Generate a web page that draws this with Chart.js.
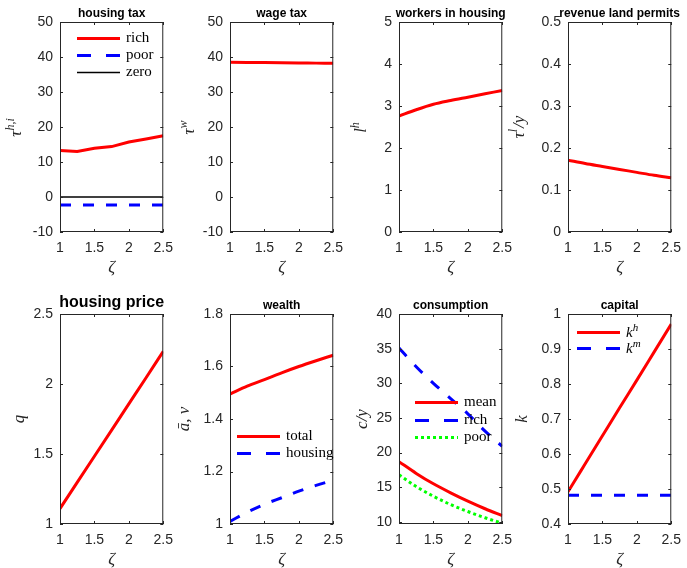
<!DOCTYPE html>
<html lang="en">
<head>
<meta charset="UTF-8">
<title>Housing tax panels</title>
<script src="https://cdn.jsdelivr.net/npm/chart.js"></script>
<style>
  body { margin: 0; background: #fff; width: 687px; height: 568px; overflow: hidden; position: relative; }
  canvas { position: absolute; }
</style>
</head>
<body>
<script>
// x values (zeta) and tick labels
const zeta = [1, 1.25, 1.5, 1.75, 2, 2.25, 2.5];
const xTicks = [1, 1.5, 2, 2.5];

// series
const housingTaxRich = [13.3, 13.0, 13.9, 14.4, 15.7, 16.6, 17.5];
const housingTaxPoor = [-2.3, -2.3, -2.3, -2.3, -2.3, -2.3, -2.3];
const housingTaxZero = [0, 0, 0, 0, 0, 0, 0];
const wageTax = [38.5, 38.45, 38.4, 38.35, 38.3, 38.25, 38.2];
const workersHousing = [2.76, 2.91, 3.04, 3.13, 3.21, 3.29, 3.37];
const revenuePermits = [0.171, 0.163, 0.156, 0.149, 0.142, 0.135, 0.129];
const housingPrice = [1.11, 1.297, 1.484, 1.671, 1.858, 2.045, 2.233];
const wealthTotal = [1.495, 1.525, 1.55, 1.576, 1.6, 1.622, 1.643];
const wealthHousing = [1.01, 1.045, 1.075, 1.1, 1.125, 1.147, 1.167];
const consMean = [18.7, 17.0, 15.5, 14.2, 13.0, 11.9, 10.9];
const consRich = [35.1, 32.4, 30.0, 27.8, 25.6, 23.1, 20.9];
const consPoor = [16.8, 15.1, 13.7, 12.5, 11.5, 10.6, 9.8];
const capitalH = [0.492, 0.572, 0.652, 0.732, 0.811, 0.891, 0.971];
const capitalM = [0.482, 0.482, 0.482, 0.482, 0.482, 0.482, 0.482];

// y tick labels per panel
const yTicksTax = [-10, 0, 10, 20, 30, 40, 50];
const yTicksWorkers = [0, 1, 2, 3, 4, 5];
const yTicksRevenue = [0, 0.1, 0.2, 0.3, 0.4, 0.5];
const yTicksPrice = [1, 1.5, 2, 2.5];
const yTicksWealth = [1, 1.2, 1.4, 1.6, 1.8];
const yTicksCons = [10, 15, 20, 25, 30, 35, 40];
const yTicksCapital = [0.4, 0.5, 0.6, 0.7, 0.8, 0.9, 1];

const RED = '#ff0000', BLUE = '#0000ff', GREEN = '#00ff00';
const solid = (c, w) => ({ color: c, width: w || 3, dash: [] });
const dashed = { color: BLUE, width: 3, dash: [11, 12], legendDash: [14, 15] };
const dotted = { color: GREEN, width: 3, dash: [3, 3], legendDash: [3, 3] };

const PLOT_W = 107, PLOT_H = 210;
const PAD_L = 60, PAD_T = 22, PAD_R = 14, PAD_B = 56;
const TICK_FONT = { family: '"Liberation Sans", Arial, sans-serif', size: 14 };

const panels = [
  { left: 60, top: 22, title: 'housing tax', yLabel: [['τ'], ['h,i', 1]], yOff: 43,
    yMin: -10, yMax: 50, yTicks: yTicksTax,
    series: [[housingTaxRich, solid(RED), 'rich'], [housingTaxPoor, dashed, 'poor'], [housingTaxZero, solid('#000', 1.5), 'zero']],
    legend: { dx: 17, dy: 16, gap: 17 } },
  { left: 230, top: 22, title: 'wage tax', yLabel: [['τ'], ['w', 1]], yOff: 40,
    yMin: -10, yMax: 50, yTicks: yTicksTax,
    series: [[wageTax, solid(RED)]] },
  { left: 399, top: 22, title: 'workers in housing', yLabel: [['l'], ['h', 1]], yOff: 37,
    yMin: 0, yMax: 5, yTicks: yTicksWorkers,
    series: [[workersHousing, solid(RED)]] },
  { left: 568, top: 22, title: 'revenue land permits', yLabel: [['τ'], ['l', 1], ['/y']], yOff: 48,
    yMin: 0, yMax: 0.5, yTicks: yTicksRevenue,
    series: [[revenuePermits, solid(RED)]] },
  { left: 60, top: 314, title: 'housing price', big: true, yLabel: [['q']], yOff: 40,
    yMin: 1, yMax: 2.5, yTicks: yTicksPrice,
    series: [[housingPrice, solid(RED)]] },
  { left: 230, top: 314, title: 'wealth', yLabel: [['ā, v']], yOff: 45,
    yMin: 1, yMax: 1.8, yTicks: yTicksWealth,
    series: [[wealthTotal, solid(RED), 'total'], [wealthHousing, dashed, 'housing']],
    legend: { dx: 7, dy: 122, gap: 17 } },
  { left: 399, top: 314, title: 'consumption', yLabel: [['c/y']], yOff: 36,
    yMin: 9.7, yMax: 40, yTicks: yTicksCons,
    series: [[consMean, solid(RED), 'mean'], [consRich, dashed, 'rich'], [consPoor, dotted, 'poor']],
    legend: { dx: 16, dy: 88, gap: 17.5 } },
  { left: 568, top: 314, title: 'capital', yLabel: [['k']], yOff: 45,
    yMin: 0.4, yMax: 1, yTicks: yTicksCapital,
    series: [[capitalH, solid(RED), [['k'], ['h', 1]]], [capitalM, dashed, [['k'], ['m', 1]]]],
    legend: { dx: 9, dy: 18, gap: 16 } }
];

// draws base + superscript pieces starting at (x, y), returns width
function drawParts(ctx, parts, x, y, size, measureOnly) {
  let w = 0;
  parts.forEach(([t, sup]) => {
    ctx.font = 'italic ' + (sup ? Math.round(size * 0.7) : size) + 'px "Liberation Serif", serif';
    if (!measureOnly) ctx.fillText(t, x + w, sup ? y - size * 0.38 : y);
    w += ctx.measureText(t).width + (sup ? 1 : 0);
  });
  return w;
}

const matlabAxes = {
  id: 'matlabAxes',
  afterDraw(chart, args, p) {
    const { ctx, chartArea: a, scales: { x, y } } = chart;
    ctx.save();
    ctx.strokeStyle = '#262626';
    ctx.lineWidth = 1;
    ctx.strokeRect(a.left + 0.5, a.top + 0.5, a.right - a.left - 1, a.bottom - a.top - 1);
    ctx.beginPath();
    xTicks.forEach(v => {
      const px = Math.round(x.getPixelForValue(v)) + 0.5;
      ctx.moveTo(px, a.bottom); ctx.lineTo(px, a.bottom - 3);
      ctx.moveTo(px, a.top); ctx.lineTo(px, a.top + 3);
    });
    p.yTicks.forEach(v => {
      const py = Math.round(y.getPixelForValue(v)) + 0.5;
      ctx.moveTo(a.left, py); ctx.lineTo(a.left + 3, py);
      ctx.moveTo(a.right, py); ctx.lineTo(a.right - 3, py);
    });
    ctx.stroke();

    // title
    ctx.fillStyle = '#000';
    ctx.textAlign = 'center';
    ctx.textBaseline = 'middle';
    ctx.font = 'bold ' + (p.big ? 16 : 12) + 'px "Liberation Sans", Arial, sans-serif';
    ctx.fillText(p.title, (a.left + a.right) / 2, a.top - (p.big ? 11 : 8));

    // x label
    ctx.fillStyle = '#262626';
    ctx.font = 'italic 17px "Liberation Serif", serif';
    ctx.fillText('ζ', (a.left + a.right) / 2, a.bottom + 36);

    // y label, rotated
    ctx.save();
    ctx.translate(a.left - p.yOff, (a.top + a.bottom) / 2);
    ctx.rotate(-Math.PI / 2);
    ctx.textAlign = 'left';
    ctx.textBaseline = 'middle';
    const lw = drawParts(ctx, p.yLabel, 0, 0, 17, true);
    drawParts(ctx, p.yLabel, -lw / 2, 0, 17);
    ctx.restore();

    // legend inside the axes
    if (p.legend) {
      const L = p.legend;
      p.series.forEach(([, st, name], i) => {
        const ly = Math.round(a.top + L.dy + i * L.gap) + 0.5;
        const lx = a.left + L.dx;
        ctx.strokeStyle = st.color;
        ctx.lineWidth = st.width;
        ctx.setLineDash(st.legendDash || st.dash);
        ctx.beginPath();
        ctx.moveTo(lx, ly); ctx.lineTo(lx + 43, ly);
        ctx.stroke();
        ctx.setLineDash([]);
        ctx.fillStyle = '#000';
        ctx.textAlign = 'left';
        ctx.textBaseline = 'middle';
        if (typeof name === 'string') {
          ctx.font = '15px "Liberation Serif", serif';
          ctx.fillText(name, lx + 49, ly);
        } else {
          drawParts(ctx, name, lx + 49, ly + 1, 15);
        }
      });
    }
    ctx.restore();
  }
};

const fmt = v => String(+v.toFixed(4));

panels.forEach(p => {
  const cv = document.createElement('canvas');
  cv.width = PAD_L + PLOT_W + PAD_R;
  cv.height = PAD_T + PLOT_H + PAD_B;
  cv.style.left = (p.left - PAD_L) + 'px';
  cv.style.top = (p.top - PAD_T) + 'px';
  document.body.appendChild(cv);

  new Chart(cv, {
    type: 'line',
    data: {
      datasets: p.series.map(([vals, st]) => ({
        data: zeta.map((z, i) => ({ x: z, y: vals[i] })),
        borderColor: st.color,
        borderWidth: st.width,
        borderDash: st.dash,
        pointRadius: 0,
        fill: false,
        cubicInterpolationMode: vals === housingTaxRich ? 'default' : 'monotone',
        tension: 0
      }))
    },
    options: {
      responsive: false,
      animation: false,
      events: [],
      layout: { padding: { left: 0, top: PAD_T, right: PAD_R, bottom: 0 } },
      plugins: { legend: { display: false }, tooltip: { enabled: false }, matlabAxes: p },
      scales: {
        x: {
          type: 'linear', min: 1, max: 2.5,
          grid: { display: false, drawTicks: false }, border: { display: false },
          afterBuildTicks: s => { s.ticks = xTicks.map(v => ({ value: v })); },
          afterFit: s => { s.height = PAD_B; },
          ticks: { padding: 8, maxRotation: 0, color: '#262626', font: TICK_FONT, callback: fmt }
        },
        y: {
          type: 'linear', min: p.yMin, max: p.yMax,
          grid: { display: false, drawTicks: false }, border: { display: false },
          afterBuildTicks: s => { s.ticks = p.yTicks.map(v => ({ value: v })); },
          afterFit: s => { s.width = PAD_L; },
          ticks: { padding: 7, color: '#262626', font: TICK_FONT, callback: fmt }
        }
      }
    },
    plugins: [matlabAxes]
  });
});
</script>
</body>
</html>
